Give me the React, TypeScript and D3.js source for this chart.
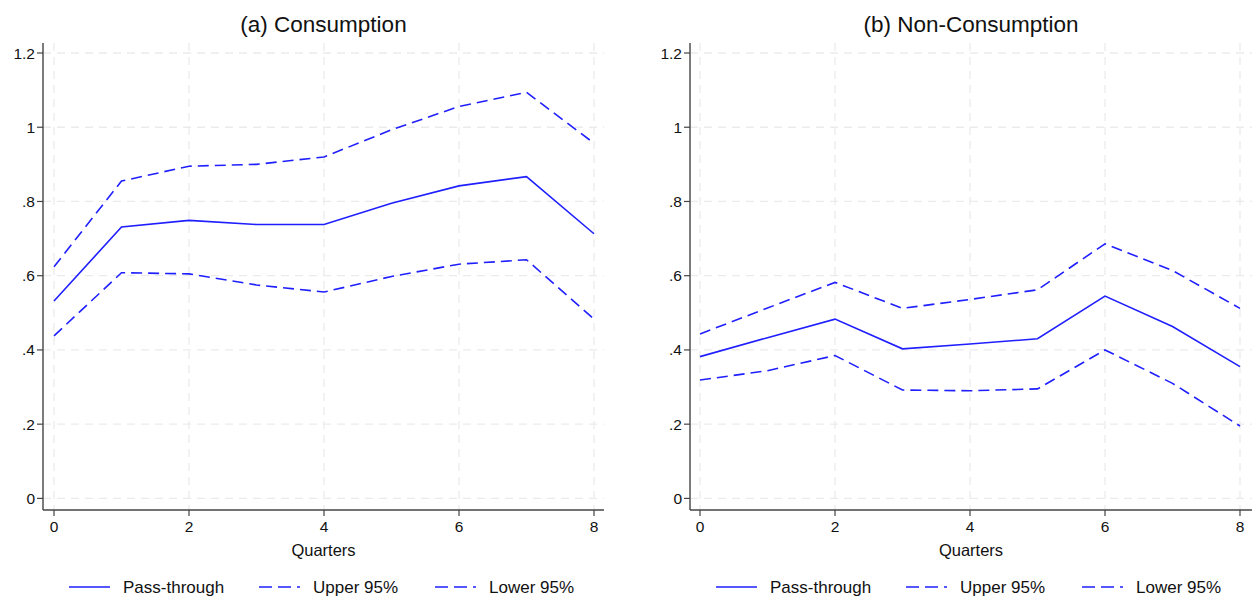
import * as d3 from "d3";
import { useEffect, useRef } from "react";

const quarters = [0, 1, 2, 3, 4, 5, 6, 7, 8];

const consPass = [0.532, 0.731, 0.749, 0.738, 0.738, 0.795, 0.842, 0.867, 0.713];
const consUpper = [0.624, 0.855, 0.895, 0.9, 0.92, 0.993, 1.056, 1.094, 0.957];
const consLower = [0.438, 0.608, 0.605, 0.575, 0.556, 0.598, 0.631, 0.643, 0.483];

const nonPass = [0.382, 0.433, 0.483, 0.403, 0.416, 0.43, 0.545, 0.463, 0.355];
const nonUpper = [0.443, 0.513, 0.582, 0.512, 0.536, 0.562, 0.686, 0.614, 0.512];
const nonLower = [0.319, 0.344, 0.385, 0.292, 0.29, 0.295, 0.4, 0.31, 0.195];

const yTicks = [0, 0.2, 0.4, 0.6, 0.8, 1, 1.2];
const yTickLabels = ["0", ".2", ".4", ".6", ".8", "1", "1.2"];
const xTicks = [0, 2, 4, 6, 8];

const panelTitles = ["(a) Consumption", "(b) Non-Consumption"];
const legendLabels = ["Pass-through", "Upper 95%", "Lower 95%"];

const width = 1253,
  height = 600;
const font = "'Liberation Sans', Arial, sans-serif";
const blue = "#1f1fff";

export default function App() {
  const ref = useRef<SVGSVGElement>(null);

  useEffect(() => {
    const svg = d3.select(ref.current);
    svg.selectAll("*").remove();

    const panels = [
      { left: 43, x0: 54, x1: 594, axisEnd: 604, series: [consPass, consUpper, consLower] },
      { left: 690, x0: 700, x1: 1240, axisEnd: 1252, series: [nonPass, nonUpper, nonLower] },
    ];

    const y = d3.scaleLinear().domain([0, 1.2]).range([498.4, 53]);
    const dashes = [null, "11 6", "11 6"];

    panels.forEach((p, i) => {
      const g = svg.append("g");
      const x = d3.scaleLinear().domain([0, 8]).range([p.x0, p.x1]);
      const plotTop = 43,
        plotBottom = 510;

      // grid
      g.selectAll(".hgrid")
        .data(yTicks)
        .join("line")
        .attr("x1", p.left)
        .attr("x2", p.axisEnd)
        .attr("y1", (d) => y(d))
        .attr("y2", (d) => y(d))
        .attr("stroke", "#ebebeb")
        .attr("stroke-width", 1.3)
        .attr("stroke-dasharray", "8 6");
      g.selectAll(".vgrid")
        .data(xTicks)
        .join("line")
        .attr("x1", (d) => x(d))
        .attr("x2", (d) => x(d))
        .attr("y1", plotTop)
        .attr("y2", plotBottom)
        .attr("stroke", "#ebebeb")
        .attr("stroke-width", 1.3)
        .attr("stroke-dasharray", "8 6");

      // axes
      g.append("line")
        .attr("x1", p.left)
        .attr("x2", p.left)
        .attr("y1", plotTop)
        .attr("y2", plotBottom)
        .attr("stroke", "#444")
        .attr("stroke-width", 1.4);
      g.append("line")
        .attr("x1", p.left)
        .attr("x2", p.axisEnd)
        .attr("y1", plotBottom)
        .attr("y2", plotBottom)
        .attr("stroke", "#444")
        .attr("stroke-width", 1.4);

      yTicks.forEach((t, k) => {
        g.append("line")
          .attr("x1", p.left - 6)
          .attr("x2", p.left)
          .attr("y1", y(t))
          .attr("y2", y(t))
          .attr("stroke", "#444")
          .attr("stroke-width", 1.2);
        g.append("text")
          .attr("x", p.left - 8)
          .attr("y", y(t) + 5.5)
          .attr("text-anchor", "end")
          .attr("font-family", font)
          .attr("font-size", 15.5)
          .attr("fill", "#111")
          .text(yTickLabels[k]);
      });
      xTicks.forEach((t) => {
        g.append("line")
          .attr("x1", x(t))
          .attr("x2", x(t))
          .attr("y1", plotBottom)
          .attr("y2", plotBottom + 6)
          .attr("stroke", "#444")
          .attr("stroke-width", 1.2);
        g.append("text")
          .attr("x", x(t))
          .attr("y", plotBottom + 22)
          .attr("text-anchor", "middle")
          .attr("font-family", font)
          .attr("font-size", 15.5)
          .attr("fill", "#111")
          .text(t);
      });

      const mid = (p.left + p.axisEnd) / 2;
      g.append("text")
        .attr("x", mid)
        .attr("y", 32)
        .attr("text-anchor", "middle")
        .attr("font-family", font)
        .attr("font-size", 22.5)
        .attr("fill", "#111")
        .text(panelTitles[i]);
      g.append("text")
        .attr("x", mid)
        .attr("y", 556)
        .attr("text-anchor", "middle")
        .attr("font-family", font)
        .attr("font-size", 16.5)
        .attr("fill", "#111")
        .text("Quarters");

      // series
      const line = d3
        .line<number>()
        .x((_, k) => x(quarters[k]))
        .y((d) => y(d));
      p.series.forEach((s, k) => {
        g.append("path")
          .datum(s)
          .attr("d", line)
          .attr("fill", "none")
          .attr("stroke", blue)
          .attr("stroke-width", 1.6)
          .attr("stroke-dasharray", dashes[k]);
      });

      // legend
      const legendX = [p.left + 26, p.left + 216, p.left + 392];
      legendLabels.forEach((lab, k) => {
        const lx = legendX[k];
        g.append("line")
          .attr("x1", lx)
          .attr("x2", lx + 41)
          .attr("y1", 587)
          .attr("y2", 587)
          .attr("stroke", blue)
          .attr("stroke-width", 1.6)
          .attr("stroke-dasharray", k === 0 ? null : "13 6");
        g.append("text")
          .attr("x", lx + 54)
          .attr("y", 593)
          .attr("font-family", font)
          .attr("font-size", 17)
          .attr("fill", "#111")
          .text(lab);
      });
    });
  }, []);

  return (
    <svg
      ref={ref}
      width={width}
      height={height}
      style={{ position: "absolute", left: 0, top: 0, background: "#fff" }}
    />
  );
}
